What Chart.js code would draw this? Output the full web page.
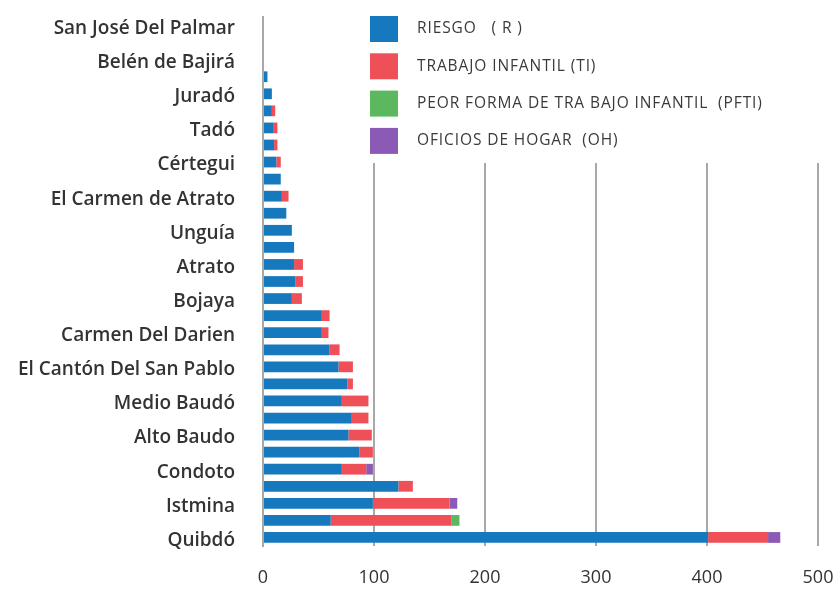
<!DOCTYPE html>
<html>
<head>
<meta charset="utf-8">
<script src="https://cdn.jsdelivr.net/npm/chart.js@4.4.1/dist/chart.umd.min.js"></script>
<style>
  html, body { margin: 0; padding: 0; background: #fff; }
  canvas { display: block; }
</style>
</head>
<body>
<canvas id="chart" width="833" height="591"></canvas>
<script>
// municipalities, top to bottom (only every other one is labelled in the picture)
const municipios = [
  'San José Del Palmar', '', 'Belén de Bajirá', '', 'Juradó', '', 'Tadó', '',
  'Cértegui', '', 'El Carmen de Atrato', '', 'Unguía', '', 'Atrato', '',
  'Bojaya', '', 'Carmen Del Darien', '', 'El Cantón Del San Pablo', '',
  'Medio Baudó', '', 'Alto Baudo', '', 'Condoto', '', 'Istmina', '', 'Quibdó'
];

const riesgo = [0, 0, 0, 4, 8, 8, 9, 10, 12, 16, 17, 21, 26, 28, 28, 29, 26, 53, 53, 60, 68, 76, 71, 80, 77, 87, 71, 122, 99, 61, 401];
const trabajoInfantil = [0, 0, 0, 0, 0, 3, 4, 3, 4, 0, 6, 0, 0, 0, 8, 7, 9, 7, 6, 9, 13, 5, 24, 15, 21, 12, 22, 13, 69, 109, 54];
const peorForma = [0, 0, 0, 0, 0, 0, 0, 0, 0, 0, 0, 0, 0, 0, 0, 0, 0, 0, 0, 0, 0, 0, 0, 0, 0, 0, 0, 0, 0, 7, 0];
const oficiosHogar = [0, 0, 0, 0, 0, 0, 0, 0, 0, 0, 0, 0, 0, 0, 0, 0, 0, 0, 0, 0, 0, 0, 0, 0, 0, 0, 6, 0, 7, 0, 11];

const xTicks = [0, 100, 200, 300, 400, 500];

const FONT = '"Open Sans", "DejaVu Sans", sans-serif';

// legend drawn as a white box over the top of the grid, like the original
const boxLegend = {
  id: 'boxLegend',
  beforeDatasetsDraw(chart) {
    const ctx = chart.ctx;
    ctx.save();
    ctx.fillStyle = '#ffffff';
    ctx.fillRect(300, 0, 533, 163);
    ctx.font = '15.5px ' + FONT;
    ctx.letterSpacing = '0.9px';
    ctx.textBaseline = 'middle';
    chart.data.datasets.forEach((ds, i) => {
      const y = 16 + i * 37.3;
      ctx.fillStyle = ds.backgroundColor;
      ctx.fillRect(370, y, 28, 26);
      ctx.fillStyle = '#3a3a3a';
      ctx.fillText(ds.label, 417, y + 13);
    });
    ctx.restore();
  }
};

const ctx = document.getElementById('chart').getContext('2d');

new Chart(ctx, {
  type: 'bar',
  data: {
    labels: municipios,
    datasets: [
      { label: 'RIESGO   ( R )', data: riesgo, backgroundColor: '#1679bd' },
      { label: 'TRABAJO INFANTIL (TI)', data: trabajoInfantil, backgroundColor: '#ef4f56' },
      { label: 'PEOR FORMA DE TRA BAJO INFANTIL  (PFTI)', data: peorForma, backgroundColor: '#5cb85f' },
      { label: 'OFICIOS DE HOGAR  (OH)', data: oficiosHogar, backgroundColor: '#8b5ab5' }
    ]
  },
  options: {
    indexAxis: 'y',
    responsive: false,
    animation: false,
    layout: { padding: { top: 17, right: 15, left: 0, bottom: 0 } },
    datasets: { bar: { categoryPercentage: 1, barPercentage: 0.63 } },
    plugins: {
      legend: { display: false },
      tooltip: { enabled: false }
    },
    scales: {
      x: {
        stacked: true,
        min: xTicks[0],
        max: xTicks[xTicks.length - 1],
        afterBuildTicks: (scale) => { scale.ticks = xTicks.map(v => ({ value: v })); },
        ticks: { padding: 21, color: '#333', font: { size: 18, family: FONT } },
        grid: { color: '#a8a8a8', lineWidth: 2, drawTicks: false },
        border: { display: false },
        afterFit: (scale) => { scale.height = 45; scale.paddingLeft = 0; scale.paddingRight = 0; }
      },
      y: {
        stacked: true,
        ticks: { autoSkip: false, padding: 28, labelOffset: 3, color: '#333', font: { size: 19, weight: '600', family: FONT } },
        grid: { display: false, drawTicks: false },
        border: { display: true, color: '#a8a8a8', width: 2 },
        afterFit: (scale) => { scale.width = 263; scale.paddingTop = 0; scale.paddingBottom = 0; }
      }
    }
  },
  plugins: [boxLegend]
});
</script>
</body>
</html>
